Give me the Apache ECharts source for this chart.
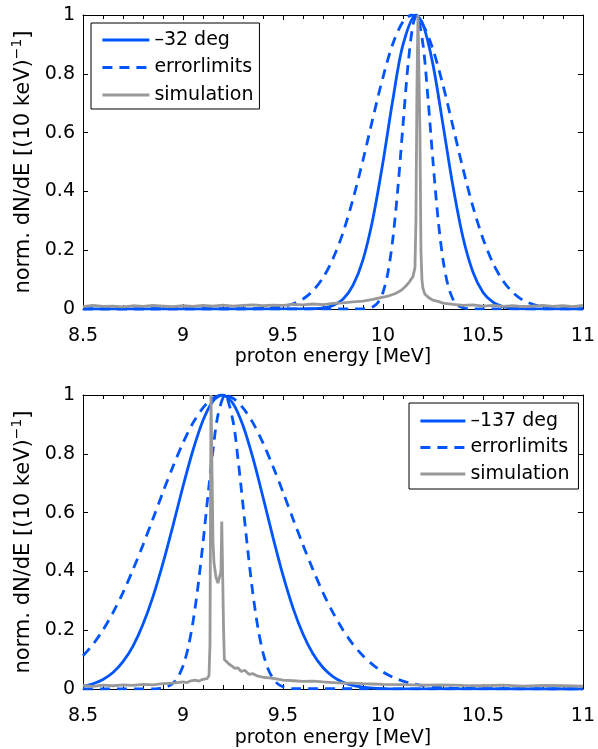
<!DOCTYPE html>
<html><head><meta charset="utf-8">
<script src="https://cdn.jsdelivr.net/npm/echarts@6/dist/echarts.min.js"></script>
<style>html,body{margin:0;padding:0;background:#fff}#c{width:598px;height:749px}</style>
</head><body><div id="c"></div><script>
// ---------- tick labels ----------
const xTicks = [8.5, 9, 9.5, 10, 10.5, 11];
const yTicks = [0, 0.2, 0.4, 0.6, 0.8, 1];

// ---------- top panel (-32 deg) ----------
const topSolidE = [8.5, 9.6, 9.65, 9.7, 9.75, 9.8, 9.85, 9.9, 9.95, 10.0, 10.05, 10.1, 10.165, 10.2, 10.25, 10.3, 10.35, 10.4, 10.45, 10.5, 10.55, 10.6, 10.65, 10.7, 11];
const topSolidV = [0, 0.0003, 0.0012, 0.004, 0.012, 0.033, 0.08, 0.167, 0.308, 0.499, 0.714, 0.898, 1, 0.969, 0.832, 0.628, 0.418, 0.244, 0.126, 0.057, 0.023, 0.008, 0.0025, 0.0007, 0];

const topWideE = [8.5, 9.3, 9.35, 9.4, 9.45, 9.5, 9.55, 9.6, 9.65, 9.7, 9.75, 9.8, 9.85, 9.9, 9.95, 10.0, 10.05, 10.1, 10.145, 10.2, 10.25, 10.3, 10.35, 10.4, 10.45, 10.5, 10.55, 10.6, 10.65, 10.7, 10.75, 10.8, 10.85, 10.9, 11];
const topWideV = [0, 0.0003, 0.0008, 0.0019, 0.0042, 0.0089, 0.018, 0.034, 0.062, 0.106, 0.171, 0.259, 0.373, 0.506, 0.65, 0.788, 0.903, 0.977, 1, 0.966, 0.883, 0.762, 0.621, 0.478, 0.348, 0.24, 0.156, 0.096, 0.056, 0.03, 0.016, 0.0077, 0.0036, 0.0015, 0];

const topNarrowE = [8.5, 9.85, 9.875, 9.9, 9.925, 9.95, 9.975, 10.0, 10.025, 10.05, 10.075, 10.1, 10.125, 10.15, 10.168, 10.2, 10.225, 10.25, 10.275, 10.3, 10.325, 10.35, 10.375, 10.4, 10.425, 10.45, 11];
const topNarrowV = [0, 0, 0.0002, 0.0007, 0.0024, 0.0078, 0.022, 0.056, 0.124, 0.242, 0.414, 0.624, 0.828, 0.967, 1, 0.901, 0.718, 0.504, 0.311, 0.169, 0.081, 0.034, 0.0126, 0.0041, 0.0012, 0.0003, 0];

const topSimE = [8.5, 8.55, 8.6, 8.65, 8.7, 8.75, 8.8, 8.85, 8.9, 8.95, 9.0, 9.05, 9.1, 9.15, 9.2, 9.25, 9.3, 9.35, 9.4, 9.45, 9.5, 9.55, 9.6, 9.65, 9.7, 9.75, 9.8, 9.85, 9.9, 9.95, 10.0, 10.03, 10.06, 10.09, 10.11, 10.13, 10.15, 10.16, 10.165, 10.17, 10.175, 10.18, 10.185, 10.19, 10.195, 10.2, 10.21, 10.23, 10.25, 10.28, 10.3, 10.35, 10.4, 10.45, 10.5, 10.55, 10.6, 10.65, 10.7, 10.75, 10.8, 10.85, 10.9, 10.95, 11.0];
const topSimV = [0.008, 0.012, 0.009, 0.01, 0.007, 0.011, 0.009, 0.012, 0.01, 0.008, 0.011, 0.009, 0.012, 0.01, 0.013, 0.01, 0.012, 0.014, 0.011, 0.013, 0.012, 0.016, 0.014, 0.017, 0.015, 0.019, 0.021, 0.024, 0.027, 0.033, 0.04, 0.045, 0.052, 0.063, 0.075, 0.09, 0.11, 0.14, 0.3, 0.75, 1.0, 1.0, 0.6, 0.2, 0.1, 0.07, 0.05, 0.038, 0.03, 0.025, 0.02, 0.016, 0.012, 0.014, 0.01, 0.012, 0.009, 0.011, 0.008, 0.01, 0.012, 0.009, 0.011, 0.008, 0.012];

// ---------- bottom panel (-137 deg) ----------
const botSolidE = [8.5, 8.55, 8.6, 8.65, 8.7, 8.75, 8.8, 8.85, 8.9, 8.95, 9.0, 9.05, 9.1, 9.15, 9.197, 9.25, 9.3, 9.35, 9.4, 9.45, 9.5, 9.55, 9.6, 9.65, 9.7, 9.75, 9.8, 9.85, 9.9, 9.95, 10.0, 10.05, 11];
const botSolidV = [0.0094, 0.018, 0.0325, 0.056, 0.093, 0.146, 0.22, 0.314, 0.428, 0.556, 0.689, 0.812, 0.913, 0.979, 1, 0.971, 0.896, 0.785, 0.653, 0.516, 0.387, 0.276, 0.187, 0.12, 0.073, 0.042, 0.023, 0.012, 0.006, 0.0028, 0.0013, 0.0005, 0];

const botWideE = [8.5, 8.55, 8.6, 8.65, 8.7, 8.75, 8.8, 8.85, 8.9, 8.95, 9.0, 9.05, 9.1, 9.15, 9.2, 9.25, 9.3, 9.35, 9.4, 9.45, 9.5, 9.55, 9.6, 9.65, 9.7, 9.75, 9.8, 9.85, 9.9, 9.95, 10.0, 10.05, 10.1, 10.15, 10.2, 10.25, 10.3, 10.35, 10.4, 11];
const botWideV = [0.113, 0.152, 0.201, 0.26, 0.328, 0.406, 0.49, 0.579, 0.67, 0.757, 0.837, 0.905, 0.956, 0.989, 1, 0.989, 0.956, 0.905, 0.837, 0.757, 0.67, 0.579, 0.49, 0.406, 0.328, 0.26, 0.201, 0.152, 0.113, 0.082, 0.058, 0.04, 0.027, 0.018, 0.0116, 0.0074, 0.0046, 0.0028, 0.0017, 0];

const botNarrowE = [8.5, 8.85, 8.875, 8.9, 8.925, 8.95, 8.975, 9.0, 9.025, 9.05, 9.075, 9.1, 9.125, 9.15, 9.175, 9.21, 9.25, 9.275, 9.3, 9.325, 9.35, 9.375, 9.4, 9.425, 9.45, 9.475, 9.5, 9.525, 9.55, 11];
const botNarrowV = [0, 0.0006, 0.0015, 0.0039, 0.0092, 0.02, 0.041, 0.078, 0.138, 0.228, 0.349, 0.497, 0.659, 0.812, 0.932, 1, 0.912, 0.783, 0.626, 0.466, 0.322, 0.207, 0.124, 0.069, 0.036, 0.017, 0.0077, 0.0032, 0.0013, 0];

const botSimE = [8.5, 8.55, 8.6, 8.65, 8.7, 8.75, 8.8, 8.85, 8.9, 8.95, 9.0, 9.02, 9.04, 9.06, 9.08, 9.1, 9.12, 9.13, 9.135, 9.14, 9.145, 9.15, 9.155, 9.165, 9.175, 9.185, 9.19, 9.194, 9.2, 9.203, 9.207, 9.215, 9.23, 9.245, 9.26, 9.275, 9.29, 9.31, 9.33, 9.35, 9.37, 9.4, 9.43, 9.46, 9.5, 9.55, 9.6, 9.65, 9.7, 9.75, 9.8, 9.85, 9.9, 9.95, 10.0, 10.1, 10.2, 10.3, 10.4, 10.5, 10.6, 10.7, 10.8, 10.9, 11.0];
const botSimV = [0.012, 0.009, 0.013, 0.011, 0.014, 0.012, 0.016, 0.014, 0.018, 0.02, 0.024, 0.022, 0.028, 0.03, 0.027, 0.033, 0.035, 0.045, 0.15, 1.0, 0.75, 0.5, 0.43, 0.38, 0.36, 0.365, 0.4, 0.57, 0.57, 0.2, 0.1, 0.095, 0.085, 0.078, 0.07, 0.072, 0.06, 0.063, 0.05, 0.052, 0.045, 0.04, 0.038, 0.035, 0.03, 0.028, 0.026, 0.027, 0.024, 0.022, 0.02, 0.02, 0.018, 0.017, 0.016, 0.015, 0.013, 0.014, 0.012, 0.011, 0.013, 0.01, 0.012, 0.011, 0.01];

const topLabel = '–32 deg';
const botLabel = '–137 deg';
const errLabel = 'errorlimits';
const simLabel = 'simulation';

// ---------- styling ----------
const BLUE = '#0055ff';
const GRAY = '#999999';
const FONT = 'DejaVu Sans';
const zip = (e, v) => e.map((x, i) => [x, v[i]]);

function xAxisPair(g) {
  const base = {
    type: 'value', gridIndex: g, min: xTicks[0], max: xTicks[xTicks.length - 1], interval: 0.5,
    axisLine: { show: true, onZero: false, lineStyle: { color: '#000', width: 1 } },
    axisTick: { show: true, inside: true, length: 5, lineStyle: { color: '#000', width: 1 } },
    minorTick: { show: true, splitNumber: 5, length: 4, lineStyle: { color: '#000', width: 1 } },
    splitLine: { show: false }, minorSplitLine: { show: false }
  };
  return [
    Object.assign({}, base, {
      position: 'bottom',
      axisLabel: { color: '#000', fontFamily: FONT, fontSize: 19, margin: 18 },
      name: 'proton energy [MeV]', nameLocation: 'middle', nameGap: g === 0 ? 39 : 40,
      nameTextStyle: { color: '#000', fontFamily: FONT, fontSize: 19 }
    }),
    Object.assign({}, base, { position: 'top', axisLabel: { show: false } })
  ];
}
function yAxisPair(g) {
  const base = {
    type: 'value', gridIndex: g, min: yTicks[0], max: yTicks[yTicks.length - 1], interval: 0.2,
    axisLine: { show: true, onZero: false, lineStyle: { color: '#000', width: 1 } },
    axisTick: { show: true, inside: true, length: 5, lineStyle: { color: '#000', width: 1 } },
    splitLine: { show: false }
  };
  return [
    Object.assign({}, base, {
      position: 'left',
      axisLabel: { color: '#000', fontFamily: FONT, fontSize: 19, margin: 8 },
      name: '{a|norm. dN/dE [(10 keV)}{s|−1}{a|]}', nameLocation: 'middle', nameGap: 42, nameRotate: 90,
      nameTextStyle: {
        rich: {
          a: { fontFamily: FONT, fontSize: 21, color: '#000', lineHeight: 24, verticalAlign: 'bottom' },
          s: { fontFamily: FONT, fontSize: 14, color: '#000', lineHeight: 24, verticalAlign: 'top' }
        }
      }
    }),
    Object.assign({}, base, { position: 'right', axisLabel: { show: false } })
  ];
}

function lineSeries(name, e, v, xi, yi, color, dashed, smooth, z) {
  return {
    type: 'line', name: name, xAxisIndex: xi, yAxisIndex: yi, data: zip(e, v),
    symbol: 'none', smooth: smooth, clip: true, z: z,
    lineStyle: { color: color, width: 2.8, type: dashed ? [10, 7] : 'solid' },
    itemStyle: { color: color },
    emphasis: { disabled: true }
  };
}

const legendBase = {
  orient: 'vertical', itemGap: 5.5, itemHeight: 14,
  borderColor: '#000', borderWidth: 1, backgroundColor: '#fff', borderRadius: 0,
  itemStyle: { opacity: 0 },
  lineStyle: { width: 2.8 },
  textStyle: { color: '#000', fontFamily: FONT, fontSize: 19, lineHeight: 22 },
  selectedMode: false
};

const chart = echarts.init(document.getElementById('c'), null, { renderer: 'canvas' });
chart.setOption({
  animation: false,
  backgroundColor: '#fff',
  grid: [
    { left: 83, right: 12, top: 15, height: 294, containLabel: false },
    { left: 83, right: 12, top: 395, height: 294, containLabel: false }
  ],
  xAxis: [...xAxisPair(0), ...xAxisPair(1)],
  yAxis: [...yAxisPair(0), ...yAxisPair(1)],
  legend: [
    Object.assign({}, legendBase, { left: 91, top: 23, padding: [6, 6, 3, 10], itemWidth: 47, data: [topLabel, errLabel, simLabel] }),
    Object.assign({}, legendBase, { left: 409, top: 403, padding: [7, 9, 4, 10], itemWidth: 45, itemGap: 4.5, data: [botLabel, errLabel, simLabel] })
  ],
  series: [
    lineSeries(topLabel, topSolidE, topSolidV, 0, 0, BLUE, false, 0.3, 3),
    lineSeries(errLabel, topWideE, topWideV, 0, 0, BLUE, true, 0.3, 2),
    lineSeries(errLabel, topNarrowE, topNarrowV, 0, 0, BLUE, true, 0.3, 2),
    lineSeries(simLabel, topSimE, topSimV, 0, 0, GRAY, false, false, 4),
    lineSeries(botLabel, botSolidE, botSolidV, 2, 2, BLUE, false, 0.3, 3),
    lineSeries(errLabel, botWideE, botWideV, 2, 2, BLUE, true, 0.3, 2),
    lineSeries(errLabel, botNarrowE, botNarrowV, 2, 2, BLUE, true, 0.3, 2),
    lineSeries(simLabel, botSimE, botSimV, 2, 2, GRAY, false, false, 4)
  ]
});
</script></body></html>
